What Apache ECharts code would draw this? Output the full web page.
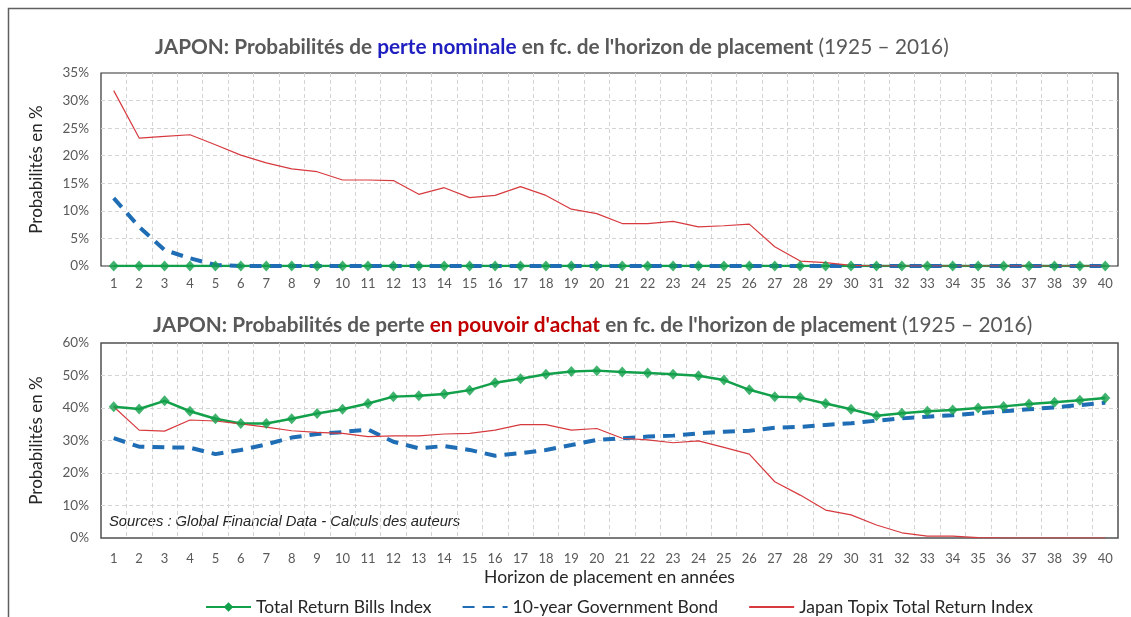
<!DOCTYPE html>
<html><head><meta charset="utf-8">
<script src="https://cdn.jsdelivr.net/npm/echarts@6/dist/echarts.min.js"></script>
<style>html,body{margin:0;padding:0;background:#fff}#c{width:1131px;height:617px}</style>
</head><body><div id="c"></div>
<script>
const categories = Array.from({length:40},(_,i)=>String(i+1));
const nominalBills = [0,0,0,0,0,0,0,0,0,0,0,0,0,0,0,0,0,0,0,0,0,0,0,0,0,0,0,0,0,0,0,0,0,0,0,0,0,0,0,0];
const nominalBond = [12.3,7.1,2.9,1.4,0.2,0,0,0,0,0,0,0,0,0,0,0,0,0,0,0,0,0,0,0,0,0,0,0,0,0,0,0,0,0,0,0,0,0,0,0];
const nominalTopix = [31.8,23.2,23.5,23.8,22.0,20.1,18.7,17.6,17.1,15.6,15.6,15.5,13.0,14.2,12.4,12.8,14.4,12.8,10.3,9.5,7.7,7.7,8.1,7.1,7.3,7.6,3.5,0.9,0.6,0.1,0,0,0,0,0,0,0,0,0,0];
const realBills = [40.4,39.7,42.2,39.0,36.7,35.2,35.2,36.7,38.3,39.6,41.4,43.5,43.8,44.3,45.5,47.8,49.0,50.4,51.2,51.5,51.1,50.8,50.4,49.9,48.6,45.6,43.5,43.2,41.4,39.6,37.6,38.4,39.0,39.4,40.0,40.5,41.2,41.8,42.4,43.1];
const realBond = [30.7,28.1,27.9,27.8,25.8,27.1,28.8,30.9,32.0,32.6,33.4,29.6,27.6,28.3,27.1,25.3,26.1,27.1,28.6,30.2,30.7,31.2,31.5,32.2,32.7,33.0,33.9,34.2,34.8,35.3,36.1,36.8,37.3,37.8,38.4,39.0,39.6,40.2,40.9,41.6];
const realTopix = [40.4,33.2,32.9,36.3,36.0,35.1,34.1,33.0,32.5,32.2,31.2,31.4,31.4,32.0,32.2,33.2,34.9,34.9,33.2,33.7,30.7,30.2,29.3,29.9,27.9,25.8,17.3,13.2,8.6,7.1,4.0,1.6,0.6,0.6,0.1,0,0,0,0,0];
const topTicks = [0,35,5];
const bottomTicks = [0,60,10];
const seriesNames = ['Total Return Bills Index','10-year Government Bond','Japan Topix Total Return Index'];

const GREEN='#13a04b', BLUE='#1f6db4', RED='#d63a3f';
const FONT='Lato';
const chart = echarts.init(document.getElementById('c'),null,{renderer:'canvas'});
const TS=20.8;
const titleRich = {
  g:{fontFamily:FONT,fontWeight:'bold',fontSize:TS,color:'#595959'},
  b:{fontFamily:FONT,fontWeight:'bold',fontSize:TS,color:'#1f1fbf'},
  r:{fontFamily:FONT,fontWeight:'bold',fontSize:TS,color:'#c00000'},
  n:{fontFamily:FONT,fontWeight:'normal',fontSize:TS,color:'#595959'}
};
function xAx(gi){return {type:'category',gridIndex:gi,data:categories,boundaryGap:true,
  axisLine:{show:false},axisTick:{show:false},
  axisLabel:{color:'#595959',fontFamily:FONT,fontSize:13,margin:gi?14:11,interval:0},
  splitLine:{show:true,showMinLine:false,showMaxLine:false,lineStyle:{color:'#d4d4d4',type:[4,3],width:1}},
  name:gi?'Horizon de placement en années':'',nameLocation:'middle',nameGap:30,
  nameTextStyle:{fontFamily:FONT,fontSize:17.5,color:'#262626'}};}
function yAx(gi,t){return {type:'value',gridIndex:gi,min:t[0],max:t[1],interval:t[2],
  axisLine:{show:false},axisTick:{show:false},
  axisLabel:{color:'#595959',fontFamily:FONT,fontSize:13.5,margin:12,formatter:'{value}%'},
  splitLine:{show:true,showMinLine:false,showMaxLine:false,lineStyle:{color:'#d4d4d4',type:[4,3],width:1}},
  name:'Probabilités en %',nameLocation:'middle',nameGap:56,
  nameTextStyle:{fontFamily:FONT,fontSize:17,color:'#262626'}};}
function grp(gi,bills,bond,topix){
  return [
    {name:seriesNames[0],type:'line',xAxisIndex:gi,yAxisIndex:gi,data:bills,symbol:'diamond',symbolSize:[10,11],showSymbol:false,
     lineStyle:{color:GREEN,width:2.5},itemStyle:{color:GREEN},z:2,animation:false},
    {name:seriesNames[1],type:'line',xAxisIndex:gi,yAxisIndex:gi,data:bond,symbol:'none',
     lineStyle:{color:BLUE,width:4,type:[12,8]},itemStyle:{color:BLUE},z:3,animation:false},
    {name:seriesNames[2],type:'line',xAxisIndex:gi,yAxisIndex:gi,data:topix,symbol:'none',
     lineStyle:{color:RED,width:1.2},itemStyle:{color:RED},z:4,animation:false},
    {name:seriesNames[0],type:'scatter',xAxisIndex:gi,yAxisIndex:gi,data:bills,symbol:'diamond',symbolSize:[10,11],
     itemStyle:{color:GREEN},z:5,animation:false}
  ];
}
chart.setOption({
  animation:false,
  backgroundColor:'#fff',
  title:[
    {left:155,top:37,padding:0,text:'{g|JAPON: Probabilités de }{b|perte nominale}{g| en fc. de l\'horizon de placement }{n|(1925 – 2016)}',textStyle:{rich:titleRich}},
    {left:153,top:315,padding:0,text:'{g|JAPON: Probabilités de perte }{r|en pouvoir d\'achat}{g| en fc. de l\'horizon de placement }{n|(1925 – 2016)}',textStyle:{rich:titleRich}}
  ],
  grid:[
    {left:101,right:13,top:73,height:193,show:true,borderColor:'#303030',borderWidth:1.2,backgroundColor:'transparent'},
    {left:101,right:13,top:343,height:195,show:true,borderColor:'#505050',borderWidth:1.5,backgroundColor:'transparent'}
  ],
  xAxis:[xAx(0),xAx(1)],
  yAxis:[yAx(0,topTicks),yAx(1,bottomTicks)],
  legend:{top:593,left:200,orient:'horizontal',itemWidth:45,itemHeight:12,itemGap:30,
    data:[{name:seriesNames[0]},{name:seriesNames[1],itemStyle:{opacity:0}},{name:seriesNames[2],itemStyle:{opacity:0}}],
    textStyle:{fontFamily:FONT,fontSize:17.5,color:'#262626'}},
  graphic:[
    {type:'text',left:109,top:514,style:{text:'Sources : Global Financial Data - Calculs des auteurs',
      font:'italic 14.8px "Liberation Sans", Arial',fill:'#262626'}},
    {type:'polyline',shape:{points:[[8.5,617],[8.5,8.5],[1131,8.5]]},style:{stroke:'#606060',lineWidth:1.5,fill:null},silent:true}
  ],
  series:[...grp(0,nominalBills,nominalBond,nominalTopix),...grp(1,realBills,realBond,realTopix)]
});
</script></body></html>
